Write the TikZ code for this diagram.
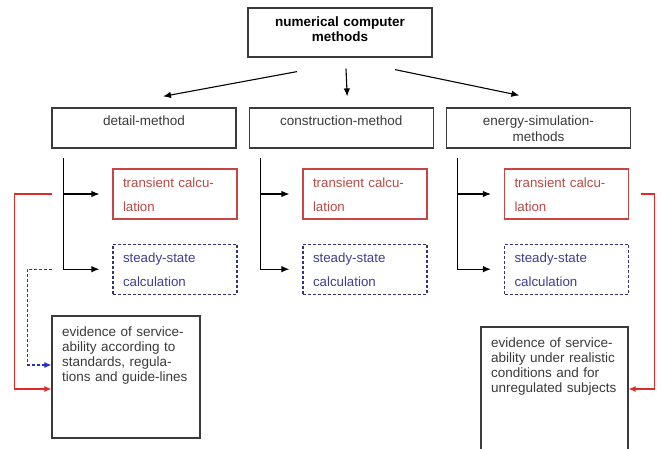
\documentclass[tikz,border=0pt]{standalone}
\usepackage{fontspec}
\setmainfont{Liberation Sans}
\usepackage{xcolor}
\usepackage{tikz}
\usetikzlibrary{arrows.meta,positioning}
\definecolor{framegray}{HTML}{3A3A3A}
\definecolor{transred}{HTML}{C94444}
\definecolor{transtext}{HTML}{B84A46}
\definecolor{steadyblue}{HTML}{34347E}
\definecolor{steadytext}{HTML}{3E3E92}
\definecolor{linkred}{HTML}{E02A2A}
\definecolor{linkblue}{HTML}{2233CC}

\begin{document}
\begin{tikzpicture}[x=1pt, y=-1pt,
    node distance=12pt,
    head/.style={draw=framegray, line width=1.2pt, inner xsep=4pt, inner ysep=0pt,
                 text width=176pt, align=center, text height=18.5pt, text depth=30.5pt,
                 font=\fontsize{13.5}{15}\selectfont\bfseries},
    method/.style={draw=framegray, line width=1.2pt, inner xsep=4pt, inner ysep=0pt,
                   text width=176pt, align=center, text height=17.5pt, text depth=22.5pt,
                   text=framegray, font=\fontsize{13.5}{16}\selectfont},
    calcbox/.style={line width=1.2pt, inner xsep=10pt, inner ysep=0pt, text width=104pt,
                    align=left, text height=18pt, text depth=32pt,
                    font=\fontsize{13.3}{24}\selectfont},
    transient/.style={calcbox, draw=transred, text=transtext},
    steady/.style={calcbox, draw=steadyblue, text=steadytext, dash pattern=on 3pt off 2pt},
    evidence/.style={draw=framegray, line width=1.2pt, inner xsep=10pt, inner ysep=0pt,
                     align=left, text height=20pt, text=framegray,
                     font=\fontsize{13.5}{15}\selectfont},
    arrow/.style={-{Latex[length=8pt,width=6.5pt]}, line width=1.1pt},
    redlink/.style={-{Latex[length=7pt,width=6pt]}, line width=1.1pt, draw=linkred},
    bluelink/.style={-{Latex[length=7pt,width=6pt]}, line width=1.1pt, draw=linkblue,
                     dash pattern=on 3pt off 2pt}
]
    \useasboundingbox (0,0) rectangle (662,448);

    \node[head] (top) at (340,32.5) {numerical computer\\methods};

    \node[method] (detail) at (144,128) {detail-method};
    \node[method, right=of detail] (construction) {construction-method};
    \node[method, right=of construction] (energy) {energy-simulation-\\methods};

    \draw[arrow] ([xshift=-43pt,yshift=-14pt]top.south) -- ([xshift=19pt,yshift=11pt]detail.north);
    \draw[arrow] ([xshift=6pt,yshift=-11pt]top.south) -- ([xshift=6pt,yshift=11pt]construction.north);
    \draw[arrow] ([xshift=55pt,yshift=-12pt]top.south) -- ([xshift=-19pt,yshift=12pt]energy.north);

    \node[transient] (trans1) at (175,194) {transient calcu-\\lation};
    \node[transient] (trans2) at (365,194) {transient calcu-\\lation};
    \node[transient] (trans3) at (566.5,194) {transient calcu-\\lation};
    \node[steady, below=24pt of trans1] (steady1) {steady-state\\calculation};
    \node[steady, below=24pt of trans2] (steady2) {steady-state\\calculation};
    \node[steady, below=24pt of trans3] (steady3) {steady-state\\calculation};

    \coordinate (trunk1) at ([xshift=12pt,yshift=-9pt]detail.south west);
    \coordinate (trunk2) at ([xshift=12pt,yshift=-9pt]construction.south west);
    \coordinate (trunk3) at ([xshift=12pt,yshift=-9pt]energy.south west);
    \draw[arrow] (trunk1) |- ([xshift=-13pt]steady1.west);
    \draw[arrow] (trunk1 |- trans1.west) -- ([xshift=-13pt]trans1.west);
    \draw[arrow] (trunk2) |- ([xshift=-13pt]steady2.west);
    \draw[arrow] (trunk2 |- trans2.west) -- ([xshift=-13pt]trans2.west);
    \draw[arrow] (trunk3) |- ([xshift=-13pt]steady3.west);
    \draw[arrow] (trunk3 |- trans3.west) -- ([xshift=-13pt]trans3.west);

    \node[evidence, text width=128pt, text depth=102pt] (evid1) at (126,377)
        {evidence of service-\\ability according to\\standards, regula-\\tions and guide-lines};
    \node[evidence, text width=127pt, text depth=104pt] (evid2) at (554.5,389)
        {evidence of service-\\ability under realistic\\conditions and for\\unregulated subjects};

    \draw[redlink] ([xshift=-60pt]trans1.west) -- ++(-38,0) |- ([yshift=-12pt]evid1.west);
    \draw[bluelink] ([xshift=-60pt]steady1.west) -- ++(-25,0) |- ([yshift=12pt]evid1.west);
    \draw[redlink] ([xshift=12pt]trans3.east) -- ++(13,0) |- (evid2.east);
\end{tikzpicture}
\end{document}
